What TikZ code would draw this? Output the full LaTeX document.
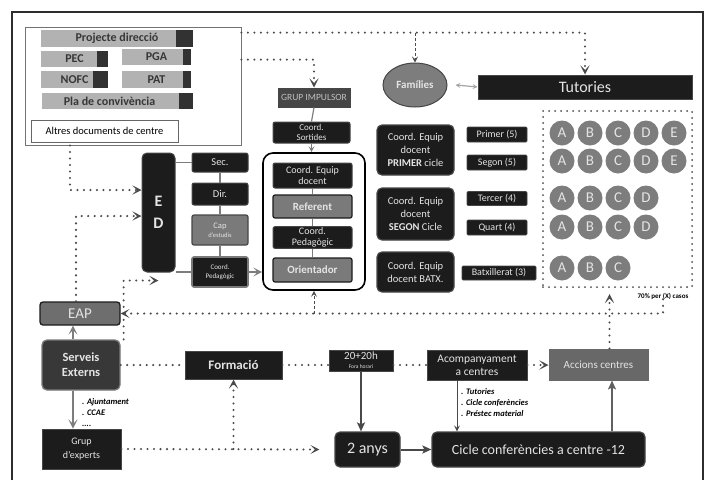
\documentclass[tikz,border=0pt]{standalone}
\usepackage{fontspec}
\setmainfont{Carlito}
\usepackage{tikz}
\usetikzlibrary{
  positioning,
  arrows.meta,
  shapes.geometric
}
\definecolor{boxdark}{RGB}{28,28,28}
\definecolor{boxedge}{RGB}{70,70,70}
\definecolor{boxgrey}{RGB}{122,122,122}
\definecolor{boxtext}{RGB}{228,228,228}
\definecolor{bargrey}{RGB}{178,178,178}
\definecolor{bartext}{RGB}{55,55,55}
\definecolor{barend}{RGB}{50,50,50}
\definecolor{circgrey}{RGB}{125,125,125}
\definecolor{dotgrey}{RGB}{75,75,75}
\definecolor{linkgrey}{RGB}{125,125,125}
\definecolor{framegrey}{RGB}{45,45,45}
\tikzset{
  darkbox/.style={
    draw=boxedge, fill=boxdark, text=boxtext, rounded corners=2pt,
    line width=1pt, inner sep=1pt, align=center,
    font=\fontsize{10.5}{13}\selectfont
  },
  greybox/.style={
    darkbox, fill=boxgrey, draw=boxdark, line width=1.2pt,
    font=\bfseries\fontsize{11}{13}\selectfont
  },
  roundbox/.style={
    darkbox, rounded corners=5pt, line width=1.2pt
  },
  smallbox/.style={
    darkbox, rounded corners=1pt, line width=0.6pt,
    font=\fontsize{10}{11}\selectfont
  },
  docbar/.style={
    fill=bargrey, text=bartext, inner sep=0pt,
    font=\bfseries\fontsize{12}{13}\selectfont
  },
  circnode/.style={
    circle, fill=circgrey, text=boxtext, minimum size=25pt, inner sep=0pt,
    font=\fontsize{15}{15}\selectfont
  },
  notelist/.style={
    align=left, inner sep=0pt, text=black,
    font=\bfseries\itshape\fontsize{8.5}{11}\selectfont
  },
  dotline/.style={
    draw=dotgrey, line width=2.3pt, dash pattern=on 0pt off 6.5pt,
    line cap=round
  },
  dashline/.style={
    draw=dotgrey, line width=1pt, dash pattern=on 3pt off 2pt
  },
  linkline/.style={
    draw=linkgrey, line width=1.2pt
  },
  tipopen/.style={
    -{Stealth[length=9pt, width=9pt, inset=4.5pt]}
  },
  tipsmall/.style={
    -{Stealth[length=6pt, width=6pt, inset=2.5pt]}
  },
  bigarrow/.style={
    -{Stealth[length=9pt, width=8pt, inset=2pt]}, line width=2pt
  }
}

\begin{document}
\begin{tikzpicture}[x=1pt, y=-1pt]
  \useasboundingbox (0,0) rectangle (713,480);
  % frame
  \draw[framegrey, line width=2pt] (12,480) -- (12,12) -- (703,12) -- (703,480);

  % documents of the school
  \node[draw=black!55, fill=white, line width=0.8pt, minimum width=216pt, minimum height=118pt, inner sep=0pt] (docs) at (133,86) {};
  \node[docbar, minimum width=152pt, minimum height=17pt] (proj) at (117,38.5) {Projecte direcció};
  \node[docbar, minimum width=67pt, minimum height=16pt] (pec) at (74.5,59) {PEC};
  \node[docbar, minimum width=69pt, minimum height=16pt] (pga) at (156.5,57) {PGA};
  \node[docbar, minimum width=67pt, minimum height=17pt] (nofc) at (74.5,79.5) {NOFC};
  \node[docbar, minimum width=69pt, minimum height=17pt] (pat) at (156.5,79.5) {PAT};
  \node[docbar, minimum width=151pt, minimum height=16pt] (pla) at (117.5,101) {Pla de convivència\hspace*{16pt}};
  \fill[barend] (proj.north east) rectangle ([xshift=-17pt]proj.south east);
  \fill[barend] (pec.north east) rectangle ([xshift=-11pt]pec.south east);
  \fill[barend] (pga.north east) rectangle ([xshift=-8pt]pga.south east);
  \fill[barend] (nofc.north east) rectangle ([xshift=-15pt]nofc.south east);
  \fill[barend] (pat.north east) rectangle ([xshift=-8pt]pat.south east);
  \fill[barend] (pla.north east) rectangle ([xshift=-14pt]pla.south east);
  \node[draw=black!60, fill=white, line width=0.7pt, minimum width=147pt, minimum height=22pt, inner sep=0pt,
        font=\fontsize{10.5}{12}\selectfont] (altres) at (104.5,131) {Altres documents de centre};

  % top row
  \node[ellipse, draw=boxedge, fill=circgrey, line width=1pt, minimum width=64pt, minimum height=44pt, inner sep=0pt,
        text=boxtext, font=\bfseries\fontsize{11}{12}\selectfont] (famil) at (415,85) {Famílies};
  \node[darkbox, rounded corners=0pt, minimum width=214pt, minimum height=24pt,
        font=\fontsize{16}{18}\selectfont] (tutories) at (585,87) {Tutories};

  % grup impulsor
  \node[darkbox, fill=boxedge, rounded corners=0pt, text=black!25, minimum width=72pt, minimum height=19pt,
        font=\fontsize{9.5}{10}\selectfont] (impulsor) at (314,97.5) {GRUP IMPULSOR};
  \node[darkbox, minimum width=77pt, minimum height=21pt, font=\fontsize{9}{10}\selectfont] (sortides) at (311.5,132.5) {Coord.\\Sortides};
  \node[draw=black, fill=white, line width=1.6pt, rounded corners=10pt, minimum width=102pt, minimum height=137pt] (container) at (314,221.5) {};
  \node[darkbox, minimum width=79pt, minimum height=25pt, font=\fontsize{10}{11}\selectfont] (cequip) at (312.5,175.5) {Coord. Equip\\docent};
  \node[greybox, minimum width=79pt, minimum height=23pt] (referent) at (312.5,206.5) {Referent};
  \node[darkbox, minimum width=79pt, minimum height=21pt, font=\fontsize{10}{11}\selectfont] (cpedag) at (312.5,237.5) {Coord.\\Pedagògic};
  \node[greybox, minimum width=79pt, minimum height=24pt] (orient) at (312.5,270) {Orientador};

  % equip directiu
  \node[darkbox, rounded corners=5pt, minimum width=33pt, minimum height=119pt,
        font=\bfseries\fontsize{16}{22}\selectfont] (ed) at (158.5,212.5) {E\\D};
  \node[darkbox, minimum width=56pt, minimum height=19pt] (sec) at (220,162.5) {Sec.};
  \node[darkbox, minimum width=56pt, minimum height=22pt] (dir) at (220,194) {Dir.};
  \node[greybox, draw=boxedge, minimum width=56pt, minimum height=30pt, font=\fontsize{8.5}{9}\selectfont] (cap) at (220,230) {Cap\\{\fontsize{6.5}{7}\selectfont d'estudis}};
  \node[darkbox, draw=boxgrey, line width=1.6pt, minimum width=56pt, minimum height=30pt,
        font=\fontsize{7}{9}\selectfont] (cpeded) at (220,272) {Coord.\\Pedagògic};

  % equips docents
  \node[roundbox, minimum width=77pt, minimum height=50pt] (primer) at (415.5,150) {Coord. Equip\\docent\\\textbf{PRIMER} cicle};
  \node[roundbox, minimum width=77pt, minimum height=52pt] (segon) at (415.5,214) {Coord. Equip\\docent\\\textbf{SEGON} Cicle};
  \node[roundbox, minimum width=77pt, minimum height=40pt] (batx) at (415.5,272) {Coord. Equip\\docent BATX.};
  \node[smallbox, minimum width=60pt, minimum height=15pt] (pr5) at (497,134.5) {Primer (5)};
  \node[smallbox, minimum width=60pt, minimum height=15pt] (se5) at (497,162.5) {Segon (5)};
  \node[smallbox, minimum width=60pt, minimum height=14pt] (te4) at (497,198.5) {Tercer (4)};
  \node[smallbox, minimum width=60pt, minimum height=15pt] (qu4) at (497,227.5) {Quart (4)};
  \node[smallbox, minimum width=74pt, minimum height=14pt] (ba3) at (499,273) {Batxillerat (3)};

  % groups
  \node[draw=dotgrey, line width=2pt, dash pattern=on 0pt off 6pt, line cap=round,
        minimum width=149pt, minimum height=176pt] (grups) at (617.5,199) {};
  \foreach \yy/\nn [count=\r] in {133/5,161/5,198/4,227/4,268/3}{
    \foreach \ll [count=\c] in {A,B,C,D,E}{
      \ifnum\c>\nn\else
        \node[circnode] (g\r\ll) at (534+28*\c,\yy) {\ll};
      \fi
    }
  }
  \node[inner sep=0pt, font=\bfseries\fontsize{7}{8}\selectfont] (casos) at (663,296) {70\% per (X) casos};

  % serveis externs
  \node[darkbox, fill=boxgrey!90!black, draw=boxdark, line width=1.3pt, rounded corners=3pt,
        minimum width=80pt, minimum height=23pt, font=\fontsize{15}{16}\selectfont] (eap) at (80,313.5) {EAP};
  \node[darkbox, fill=black!78, draw=boxgrey, line width=1.3pt, rounded corners=5pt, minimum width=78pt, minimum height=50pt,
        font=\bfseries\fontsize{12.5}{15}\selectfont] (serveis) at (81,365) {Serveis\\Externs};
  \node[darkbox, rounded corners=0pt, minimum width=79pt, minimum height=40pt,
        font=\fontsize{10}{14}\selectfont] (experts) at (81.5,449) {Grup\\d'experts};
  \node[darkbox, rounded corners=0pt, minimum width=97pt, minimum height=28pt,
        font=\bfseries\fontsize{13}{14}\selectfont] (formacio) at (233.5,365) {Formació};
  \node[darkbox, rounded corners=0pt, minimum width=64pt, minimum height=21pt,
        font=\fontsize{11}{9}\selectfont] (hores) at (361,360.5) {20+20h\\{\fontsize{5.5}{6}\selectfont Fora horari}};
  \node[darkbox, rounded corners=0pt, minimum width=100pt, minimum height=30pt,
        font=\fontsize{11.5}{13}\selectfont] (acomp) at (477,365) {Acompanyament\\a centres};
  \node[darkbox, fill=boxgrey!85!black, draw=boxgrey!85!black, rounded corners=0pt, minimum width=99pt, minimum height=31pt,
        font=\fontsize{11}{12}\selectfont] (accions) at (598.5,364.5) {Accions centres};
  \node[roundbox, minimum width=65pt, minimum height=35pt, font=\fontsize{16}{17}\selectfont] (anys) at (367.5,449.5) {2 anys};
  \node[roundbox, minimum width=213pt, minimum height=35pt, font=\fontsize{14}{15}\selectfont] (cicle) at (538.5,449.5) {Cicle conferències a centre -12};

  \node[notelist, anchor=north west] (ajunt) at (82,398) {. Ajuntament\\. CCAE\\....};
  \node[notelist, anchor=north west] (accio) at (461,388) {. Tutories\\. Cicle conferències\\. Préstec material};

  % dotted links from the documents
  \coordinate (topline) at ([yshift=-6pt]docs.north east);
  \draw[dotline, tipopen] (topline) -| (tutories.north);
  \draw[dashline, tipsmall] (famil.north |- topline) -- (famil.north);
  \draw[dotline, tipopen] ([yshift=-33pt]docs.north east) -| (impulsor.north);
  \draw[linkgrey!70, line width=1.2pt, {Stealth[length=5pt,width=5pt,inset=2pt]}-{Stealth[length=5pt,width=5pt,inset=2pt]}]
    ([xshift=8pt]famil.east) -- (tutories.west);
  \draw[dotline, tipopen] ([xshift=-63pt]docs.south) |- ([yshift=22.5pt]ed.west);
  \draw[dotline, tipopen] ([xshift=-4pt]eap.north) |- ([yshift=-3.5pt]ed.west);
  \draw[dotline, tipopen] ([xshift=3pt]serveis.north east) |- ([yshift=-8pt]ed.south);

  % grup impulsor chain
  \draw[linkline] (impulsor.south) -- (sortides.north);
  \draw[linkline, tipsmall] (sortides.south) -- (sortides.south |- container.north);
  \draw[linkline] (cequip.south) -- (referent.north);
  \draw[linkline] (referent.south) -- (cpedag.north);
  \draw[linkline] (cpedag.south) -- (orient.north);

  % equip directiu links
  \draw[linkline] (ed.east |- sec.west) -- (sec.west);
  \draw[linkline] (ed.east |- cpeded.west) -- (cpeded.west);
  \draw[linkline] (sec.south) -- (dir.north);
  \draw[linkline] (dir.south) -- (cap.north);
  \draw[linkline] (cap.south) -- (cpeded.north);
  \draw[linkline, tipopen] (cpeded.east) -- (container.west |- cpeded.east);

  % back to EAP
  \draw[dotline, tipopen] (casos.south) |- (eap.east);
  \draw[dashline, tipsmall] (container.south |- eap.east) -- (container.south);
  \draw[dotline, tipopen] ([xshift=11pt]accions.north) -- ([xshift=11pt, yshift=-6pt]accions.north |- grups.south);

  % bottom chain
  \draw[linkline, tipopen] ([xshift=-8pt]serveis.north) -- ([xshift=-8pt]serveis.north |- eap.south);
  \draw[linkline, tipopen] ([xshift=-8pt]serveis.south) -- ([xshift=-8pt]serveis.south |- experts.north);
  \draw[dotline] (serveis.east) -- (formacio.west);
  \draw[dotline] (formacio.east) -- (hores.west |- formacio.east);
  \draw[dotline] (hores.east |- formacio.east) -- (acomp.west);
  \draw[dotline, tipopen] (acomp.east) -- (accions.west |- acomp.east);
  \draw[dotline, tipopen] (experts.east) -- ([xshift=-15pt]anys.west);
  \draw[dotline, tipopen] (formacio.south |- experts.east) -- (formacio.south);
  \draw[boxdark!80, bigarrow] (hores.south) -- (hores.south |- anys.north);
  \draw[boxdark!80, bigarrow] (anys.east) -- (cicle.west);
  \draw[boxdark!80, line width=0.8pt, tipsmall] ([xshift=-20pt]acomp.south) -- ([xshift=-20pt]acomp.south |- cicle.north);
  \draw[boxdark!70, bigarrow] ([xshift=73.5pt]cicle.north) -- ([xshift=73.5pt]cicle.north |- accions.south);
\end{tikzpicture}
\end{document}
